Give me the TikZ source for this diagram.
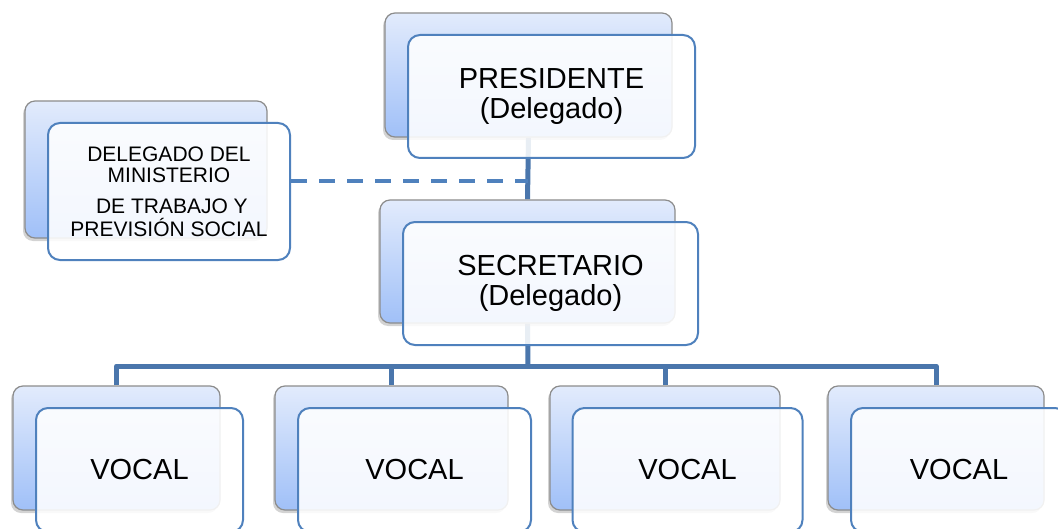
\documentclass[tikz,border=0pt]{standalone}
\usepackage{fontspec}
\setmainfont{Liberation Sans}
\usetikzlibrary{shadows,backgrounds}
\definecolor{lineblue}{HTML}{4A76AC}
\definecolor{dashblue}{HTML}{4F81BD}
\definecolor{frontborder}{HTML}{4F81BD}
\definecolor{backtop}{HTML}{E2EBFC}
\definecolor{backbot}{HTML}{A0C0F8}
\definecolor{backborder}{HTML}{8C8C8C}
\begin{document}
\begin{tikzpicture}[x=0.5pt,y=-0.5pt,
 backbox/.style={rectangle, rounded corners=5pt, draw=backborder, line width=0.6pt,
   top color=backtop, bottom color=backbot,
   drop shadow={shadow xshift=-1pt, shadow yshift=-1.5pt, opacity=0.35}, inner sep=0pt},
 frontbox/.style={rectangle, rounded corners=6pt, draw=frontborder, line width=1pt,
   fill=white, fill opacity=0.88, text opacity=1, inner sep=0pt, align=center,
   font=\fontsize{14.5}{15}\selectfont},
 smalltext/.style={font=\fontsize{10.5}{10.5}\selectfont},
 conn/.style={draw=lineblue, line width=2.5pt, line join=round},
 dconn/.style={draw=dashblue, line width=2pt, dash pattern=on 8pt off 6pt}]
\clip (0,0) rectangle (1058,529);
\coordinate (dj) at (528,181);
\coordinate (bus) at (528,366);
% back boxes
\node[backbox, minimum width=143.5pt, minimum height=62pt] (presB) at (528.5,75) {};
\node[backbox, minimum width=121pt, minimum height=68.5pt] (delB) at (146,169.5) {};
\node[backbox, minimum width=147.5pt, minimum height=61.5pt] (secB) at (527.5,261.5) {};
\node[backbox, minimum width=103.5pt, minimum height=62pt] (v1B) at (116.5,448) {};
\node[backbox, minimum width=116.5pt, minimum height=62pt] (v2B) at (391.5,448) {};
\node[backbox, minimum width=115pt, minimum height=62pt] (v3B) at (665,448) {};
\node[backbox, minimum width=108pt, minimum height=62pt] (v4B) at (936,448) {};
% front boxes
\node[frontbox, minimum width=143.5pt, minimum height=61.5pt] (presF) at (551.5,96.5) {PRESIDENTE\\(Delegado)};
\node[frontbox, smalltext, minimum width=121pt, minimum height=68.5pt] (delF) at (169,191.5)
  {DELEGADO DEL\\MINISTERIO\\[5pt]\ DE TRABAJO Y\\[1pt]PREVISIÓN SOCIAL};
\node[frontbox, minimum width=147.5pt, minimum height=61.5pt] (secF) at (550.5,283.5) {SECRETARIO\\(Delegado)};
\node[frontbox, minimum width=103.5pt, minimum height=62pt] (v1F) at (139.5,470) {VOCAL};
\node[frontbox, minimum width=116.5pt, minimum height=62pt] (v2F) at (414.5,470) {VOCAL};
\node[frontbox, minimum width=115pt, minimum height=62pt] (v3F) at (687.5,470) {VOCAL};
\node[frontbox, minimum width=108pt, minimum height=62pt] (v4F) at (959,470) {VOCAL};
% connectors behind everything
\begin{scope}[on background layer]
\draw[conn] (presB.south) -- (secB.north);
\draw[dconn] (delF.east |- dj) -- (dj);
\draw[conn] (secB.south) -- (bus);
\draw[conn] (v1B.north) -- (v1B.north |- bus) -- (v4B.north |- bus) -- (v4B.north);
\draw[conn] (v2B.north) -- (v2B.north |- bus);
\draw[conn] (v3B.north) -- (v3B.north |- bus);
\end{scope}
\end{tikzpicture}
\end{document}
